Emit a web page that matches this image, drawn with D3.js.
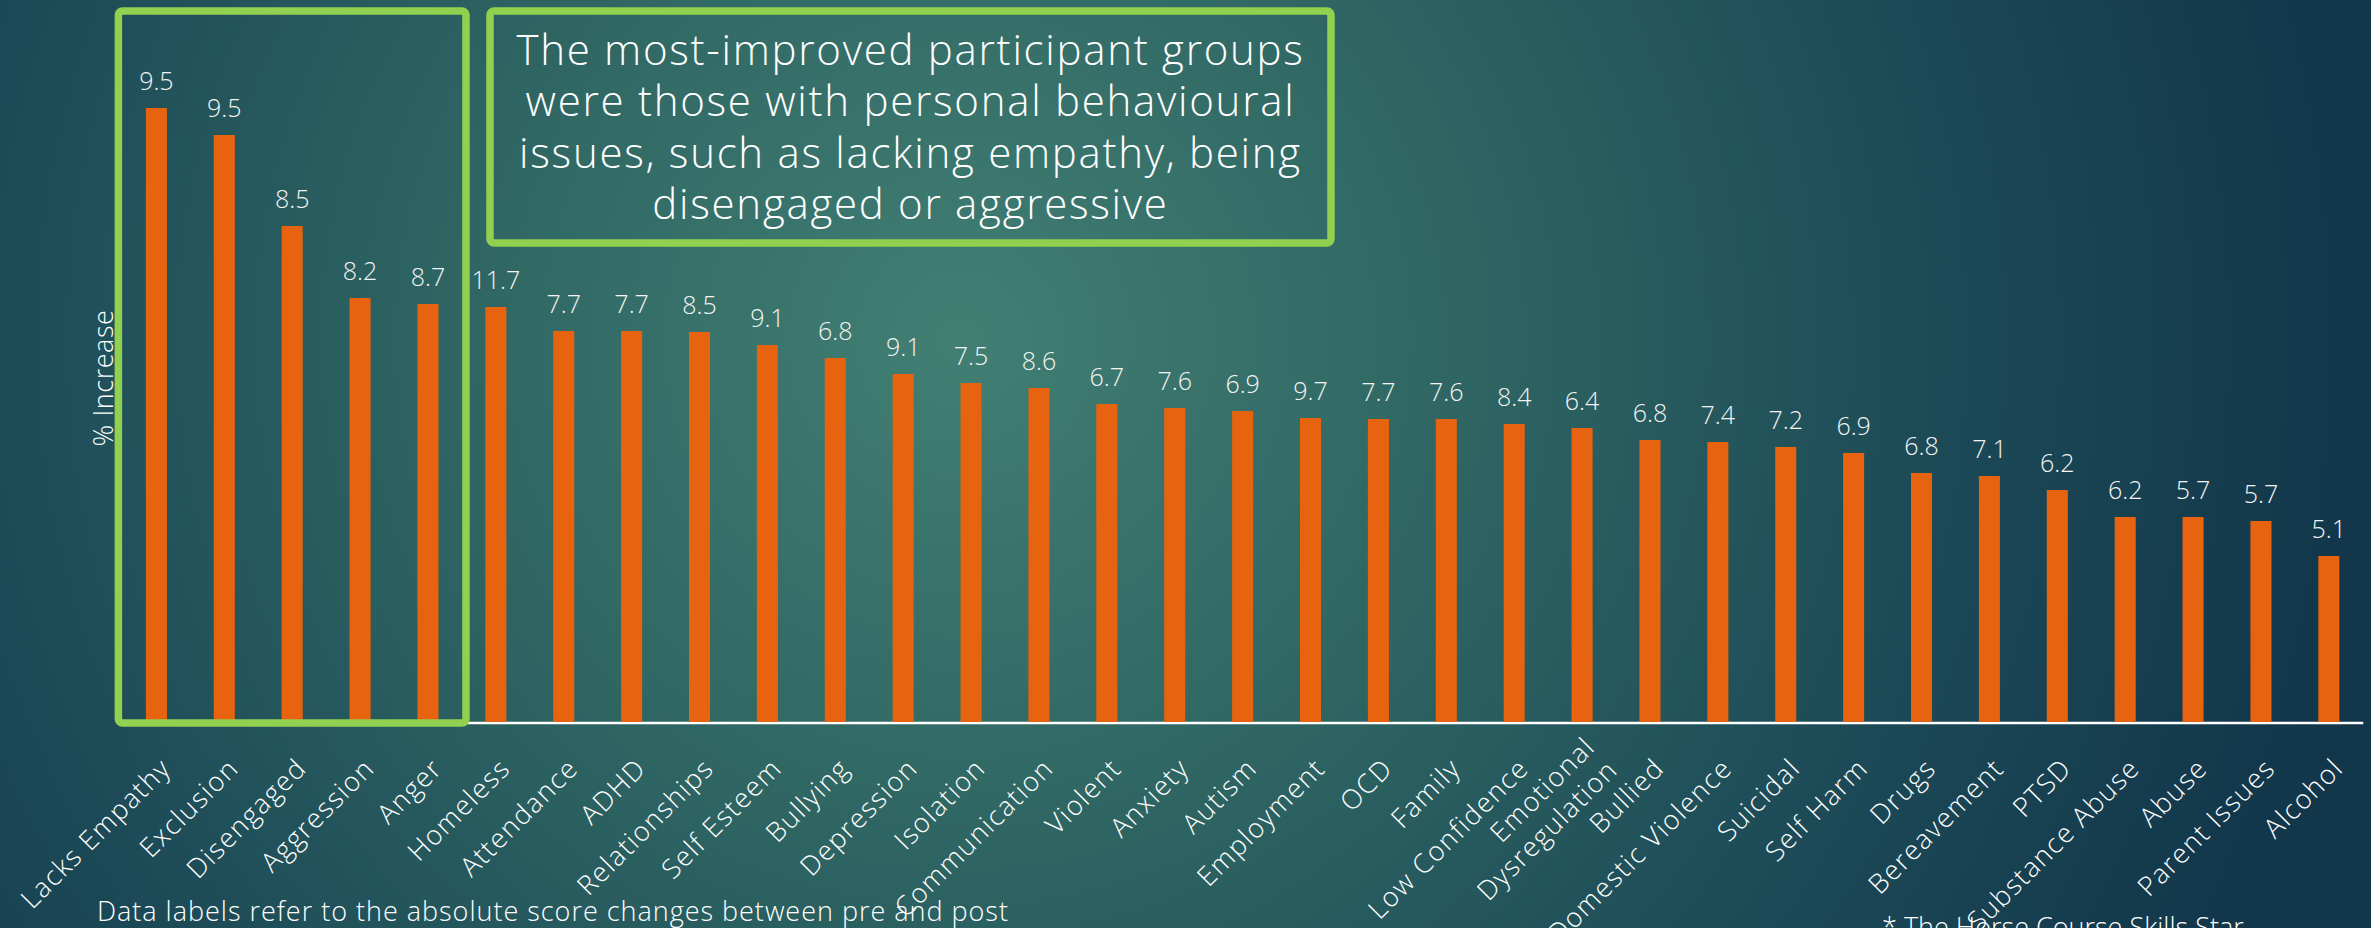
<!DOCTYPE html>
<html>
<head>
<meta charset="utf-8">
<script src="https://cdn.jsdelivr.net/npm/d3@7"></script>
<style>
  html, body { margin: 0; padding: 0; overflow: hidden; background: #1b4955; }
  svg { display: block; }
</style>
</head>
<body>
<svg id="chart" width="2371" height="928"></svg>
<script>
// Participant groups, ordered as presented
const categories = [
  "Lacks Empathy", "Exclusion", "Disengaged", "Aggression", "Anger", "Homeless",
  "Attendance", "ADHD", "Relationships", "Self Esteem", "Bullying", "Depression",
  "Isolation", "Communication", "Violent", "Anxiety", "Autism", "Employment",
  "OCD", "Family", "Low Confidence", "Emotional\nDysregulation", "Bullied",
  "Domestic Violence", "Suicidal", "Self Harm", "Drugs", "Bereavement", "PTSD",
  "Substance Abuse", "Abuse", "Parent Issues", "Alcohol"
];

// Bar heights: % increase in score
const pctIncrease = [
  61.4, 58.7, 49.6, 42.4, 41.8, 41.5, 39.1, 39.1, 39.0, 37.7, 36.4,
  34.8, 33.9, 33.4, 31.8, 31.4, 31.1, 30.4, 30.3, 30.3, 29.8, 29.4,
  28.2, 28.0, 27.5, 26.9, 24.9, 24.6, 23.2, 20.5, 20.5, 20.1, 16.6
];

// Data labels: absolute score change between pre and post
const scoreChange = [
  9.5, 9.5, 8.5, 8.2, 8.7, 11.7, 7.7, 7.7, 8.5, 9.1, 6.8,
  9.1, 7.5, 8.6, 6.7, 7.6, 6.9, 9.7, 7.7, 7.6, 8.4, 6.4,
  6.8, 7.4, 7.2, 6.9, 6.8, 7.1, 6.2, 6.2, 5.7, 5.7, 5.1
];

// Groups singled out in the highlight box
const highlighted = ["Lacks Empathy", "Exclusion", "Disengaged", "Aggression", "Anger"];

const calloutLines = [
  "The most-improved participant groups",
  "were those with personal behavioural",
  "issues, such as lacking empathy, being",
  "disengaged or aggressive"
];
const yTitle = "% Increase";
const footnote = "Data labels refer to the absolute score changes between pre and post";
const sourceNote = "* The Horse Course Skills Star";

const W = 2371, H = 928;
const FONT = "'Century Gothic', 'Open Sans', sans-serif";
const GREEN = "#92D050";
const ORANGE = "#E8630F";

const svg = d3.select("#chart");

// Widen a text run with letter-spacing so it spans the given width
function spreadTo(sel, width) {
  const node = sel.node();
  const n = sel.text().length;
  const natural = node.getComputedTextLength();
  const ls = Math.max(0, (width - natural) / n);
  sel.attr("letter-spacing", ls.toFixed(2));
  return ls;
}

// Slide background: teal radial gradient
const defs = svg.append("defs");
const bg = defs.append("radialGradient")
  .attr("id", "bg")
  .attr("gradientUnits", "userSpaceOnUse")
  .attr("cx", 960).attr("cy", 340).attr("r", 1400);
[[0, "#417f73"], [0.35, "#2f6663"], [0.7, "#1c4a57"], [1, "#12364a"]]
  .forEach(([o, c]) => bg.append("stop").attr("offset", o).attr("stop-color", c));
svg.append("rect").attr("width", W).attr("height", H).attr("fill", "url(#bg)");

// Scales
const baseY = 722;
const x = d3.scaleBand()
  .domain(categories)
  .range([122.45, 2362.8])
  .paddingInner(0.69)
  .paddingOuter(0.345);
const y = d3.scaleLinear().domain([0, 65]).range([baseY, baseY - 650]);

// Category axis (baseline only; labels drawn below)
const axisG = svg.append("g")
  .attr("transform", `translate(0,${baseY + 0.5})`)
  .call(d3.axisBottom(x).tickSize(0).tickSizeOuter(0).tickFormat(""));
axisG.select(".domain").attr("stroke", "#ffffff").attr("stroke-width", 2.5);

// Bars
const rows = categories.map((c, i) => ({ c, v: pctIncrease[i], s: scoreChange[i] }));
svg.append("g").selectAll("rect").data(rows).join("rect")
  .attr("x", d => x(d.c))
  .attr("y", d => y(d.v))
  .attr("width", x.bandwidth())
  .attr("height", d => y(0) - y(d.v))
  .attr("fill", ORANGE);

// Value labels (score change)
svg.append("g").selectAll("text").data(rows).join("text")
  .attr("x", d => x(d.c) + x.bandwidth() / 2)
  .attr("y", d => y(d.v) - 18)
  .attr("text-anchor", "middle")
  .attr("font-family", FONT)
  .attr("font-weight", 300)
  .attr("font-size", 25)
  .attr("fill", "#f4f4f4")
  .text(d => d.s.toFixed(1));

// Rotated category labels
const labG = svg.append("g").selectAll("g").data(categories).join("g")
  .attr("transform", c => `translate(${x(c) + x.bandwidth() / 2 + 16},${baseY + 48}) rotate(-45)`);
labG.each(function (c) {
  const lines = c.split("\n");
  const g = d3.select(this);
  const lh = 32;
  const shift = lines.length > 1 ? 14 : 0;
  lines.forEach((ln, k) => {
    g.append("text")
      .attr("x", shift)
      .attr("y", (k - (lines.length - 1) / 2) * lh)
      .attr("text-anchor", "end")
      .attr("font-family", FONT)
      .attr("font-weight", 300)
      .attr("font-size", 27)
      .attr("letter-spacing", 1.4)
      .attr("fill", "#ffffff")
      .text(ln);
  });
});

// Y axis title
const yt = svg.append("text")
  .attr("transform", "translate(113,378) rotate(-90)")
  .attr("text-anchor", "middle")
  .attr("font-family", FONT)
  .attr("font-weight", 300)
  .attr("font-size", 27)
  .attr("fill", "#ffffff")
  .text(yTitle);
spreadTo(yt, 137);

// Highlight box around the most-improved groups
const hx0 = x(highlighted[0]) - 27.5;
const hx1 = x(highlighted[highlighted.length - 1]) + x.bandwidth() + 27.5;
svg.append("rect")
  .attr("x", hx0).attr("y", 11)
  .attr("width", hx1 - hx0).attr("height", baseY + 1 - 11)
  .attr("rx", 4)
  .attr("fill", "none")
  .attr("stroke", GREEN)
  .attr("stroke-width", 7.5);

// Callout box
const cb = { x0: 490, x1: 1331, y0: 11, y1: 243 };
svg.append("rect")
  .attr("x", cb.x0).attr("y", cb.y0)
  .attr("width", cb.x1 - cb.x0).attr("height", cb.y1 - cb.y0)
  .attr("rx", 4)
  .attr("fill", "none")
  .attr("stroke", GREEN)
  .attr("stroke-width", 7.5);
const callout = svg.append("g").selectAll("text").data(calloutLines).join("text")
  .attr("x", 910.5)
  .attr("y", (d, i) => 65 + i * 51.3)
  .attr("text-anchor", "middle")
  .attr("font-family", FONT)
  .attr("font-weight", 300)
  .attr("font-size", 42)
  .attr("fill", "#ffffff")
  .text(d => d);
// same tracking for every line, taken from the first line's span
const calloutLs = spreadTo(d3.select(callout.nodes()[0]), 788);
callout.attr("letter-spacing", calloutLs.toFixed(2));

// Footnotes
const fn = svg.append("text")
  .attr("x", 97).attr("y", 921)
  .attr("font-family", FONT)
  .attr("font-weight", 300)
  .attr("font-size", 27)
  .attr("fill", "#ffffff")
  .text(footnote);
spreadTo(fn, 912);
const sn = svg.append("text")
  .attr("x", 1882).attr("y", 937)
  .attr("font-family", FONT)
  .attr("font-weight", 300)
  .attr("font-size", 27)
  .attr("fill", "#ffffff")
  .text(sourceNote);
spreadTo(sn, 356);
</script>
</body>
</html>
